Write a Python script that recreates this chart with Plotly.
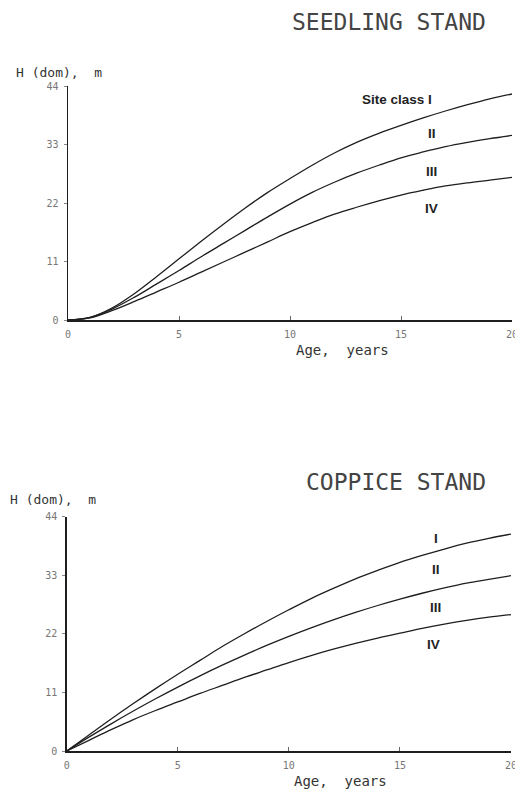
import plotly.graph_objects as go

W, H = 515, 789

ages = list(range(21))

# Seedling stand: site-class boundary curves (dominant height, m)
seed_I = [0, 0.5, 2.3, 5.0, 8.2, 11.5, 14.8, 18.0, 21.1, 24.0, 26.6,
          29.1, 31.4, 33.4, 35.1, 36.6, 38.0, 39.3, 40.5, 41.6, 42.5]
seed_II = [0, 0.5, 2.1, 4.3, 6.8, 9.3, 11.9, 14.4, 16.9, 19.4, 21.8,
           24.0, 25.9, 27.6, 29.1, 30.5, 31.6, 32.6, 33.4, 34.1, 34.7]
seed_III = [0, 0.4, 1.8, 3.5, 5.3, 7.1, 9.0, 10.9, 12.8, 14.7, 16.6,
            18.3, 19.9, 21.2, 22.4, 23.5, 24.4, 25.2, 25.8, 26.3, 26.8]

# Coppice stand
cop_I = [0, 3.0, 6.0, 8.9, 11.7, 14.4, 17.0, 19.6, 22.0, 24.3, 26.5,
         28.6, 30.5, 32.3, 33.9, 35.4, 36.7, 37.9, 39.0, 39.9, 40.7]
cop_II = [0, 2.6, 5.1, 7.5, 9.8, 12.0, 14.1, 16.1, 18.0, 19.8, 21.5,
          23.1, 24.6, 26.0, 27.3, 28.5, 29.6, 30.6, 31.5, 32.2, 32.9]
cop_III = [0, 2.0, 4.0, 5.9, 7.6, 9.2, 10.8, 12.3, 13.8, 15.2, 16.6,
           17.9, 19.1, 20.2, 21.2, 22.1, 23.0, 23.8, 24.5, 25.1, 25.6]

x_ticks = [0, 5, 10, 15, 20]
y_ticks = [0, 11, 22, 33, 44]

seed_labels = ["Site class I", "II", "III", "IV"]
seed_label_x = [14.82, 16.38, 16.38, 16.37]
seed_label_y = [41.4, 35.0, 28.0, 21.0]
cop_labels = ["I", "II", "III", "IV"]
cop_label_x = [16.62, 16.62, 16.62, 16.5]
cop_label_y = [39.8, 34.1, 27.0, 20.0]

LINE = "#1e1e1e"
MONO = "DejaVu Sans Mono"
BOLD = "Liberation Sans"


def px(x):
    return x / W


def py(y):
    return 1 - y / H


fig = go.Figure()

for ys in (seed_I, seed_II, seed_III):
    fig.add_trace(go.Scatter(x=ages, y=ys, mode="lines", xaxis="x", yaxis="y",
                             line=dict(color=LINE, width=1.3, shape="spline"),
                             showlegend=False, hoverinfo="skip"))
for ys in (cop_I, cop_II, cop_III):
    fig.add_trace(go.Scatter(x=ages, y=ys, mode="lines", xaxis="x2", yaxis="y2",
                             line=dict(color=LINE, width=1.3, shape="spline"),
                             showlegend=False, hoverinfo="skip"))

xaxis_common = dict(range=[0, 20], tickvals=x_ticks, showgrid=False, zeroline=False,
                    showline=True, linecolor=LINE, linewidth=1.5, automargin=False,
                    ticks="inside", ticklen=4, tickcolor="#666", tickwidth=1,
                    tickfont=dict(family=MONO, size=10, color="#777"),
                    ticklabelstandoff=4, ticklabeloverflow="allow", fixedrange=True)
yaxis_common = dict(range=[0, 44], tickvals=y_ticks, showgrid=False, zeroline=False,
                    showline=True, linecolor=LINE, linewidth=1.5, automargin=False,
                    ticks="outside", ticklen=3, tickcolor="#888", tickwidth=1,
                    tickfont=dict(family=MONO, size=10, color="#777"),
                    ticklabelstandoff=3, ticklabeloverflow="allow", fixedrange=True)

annotations = []


def txt(x, y, text, size, family=MONO, color="#333", xanchor="center"):
    annotations.append(dict(x=x, y=y, xref="paper", yref="paper", text=text, showarrow=False,
                            xanchor=xanchor, yanchor="middle",
                            font=dict(family=family, size=size, color=color)))


# titles
txt(px(488), py(22), "SEEDLING STAND", 23, color="#444", xanchor="right")
txt(px(488), py(482), "COPPICE STAND", 23, color="#444", xanchor="right")
# axis titles
txt(px(14), py(72), "H (dom),  m", 13, color="#333", xanchor="left")
txt(px(8), py(499), "H (dom),  m", 13, color="#333", xanchor="left")
txt(px(342), py(350), "Age,  years", 14, color="#333")
txt(px(340), py(781), "Age,  years", 14, color="#333")

for t, x, y in zip(seed_labels, seed_label_x, seed_label_y):
    annotations.append(dict(x=x, y=y, xref="x", yref="y", text="<b>" + t + "</b>",
                            showarrow=False, font=dict(family=BOLD, size=13.5, color="#222")))
for t, x, y in zip(cop_labels, cop_label_x, cop_label_y):
    annotations.append(dict(x=x, y=y, xref="x2", yref="y2", text="<b>" + t + "</b>",
                            showarrow=False, font=dict(family=BOLD, size=13.5, color="#222")))

fig.update_layout(
    template="none",
    width=W, height=H,
    margin=dict(l=0, r=0, t=0, b=0, pad=0),
    paper_bgcolor="white", plot_bgcolor="white",
    xaxis=dict(domain=[px(68), px(512)], anchor="y", **xaxis_common),
    yaxis=dict(domain=[py(320), py(86)], anchor="x", **yaxis_common),
    xaxis2=dict(domain=[px(66.7), px(511)], anchor="y2", **xaxis_common),
    yaxis2=dict(domain=[py(751), py(516.5)], anchor="x2", **yaxis_common),
    annotations=annotations,
    showlegend=False,
)

fig.write_html("out.html",
               config={"displayModeBar": False, "staticPlot": True},
               post_script="document.body.style.margin='0';document.body.style.overflow='hidden';")
